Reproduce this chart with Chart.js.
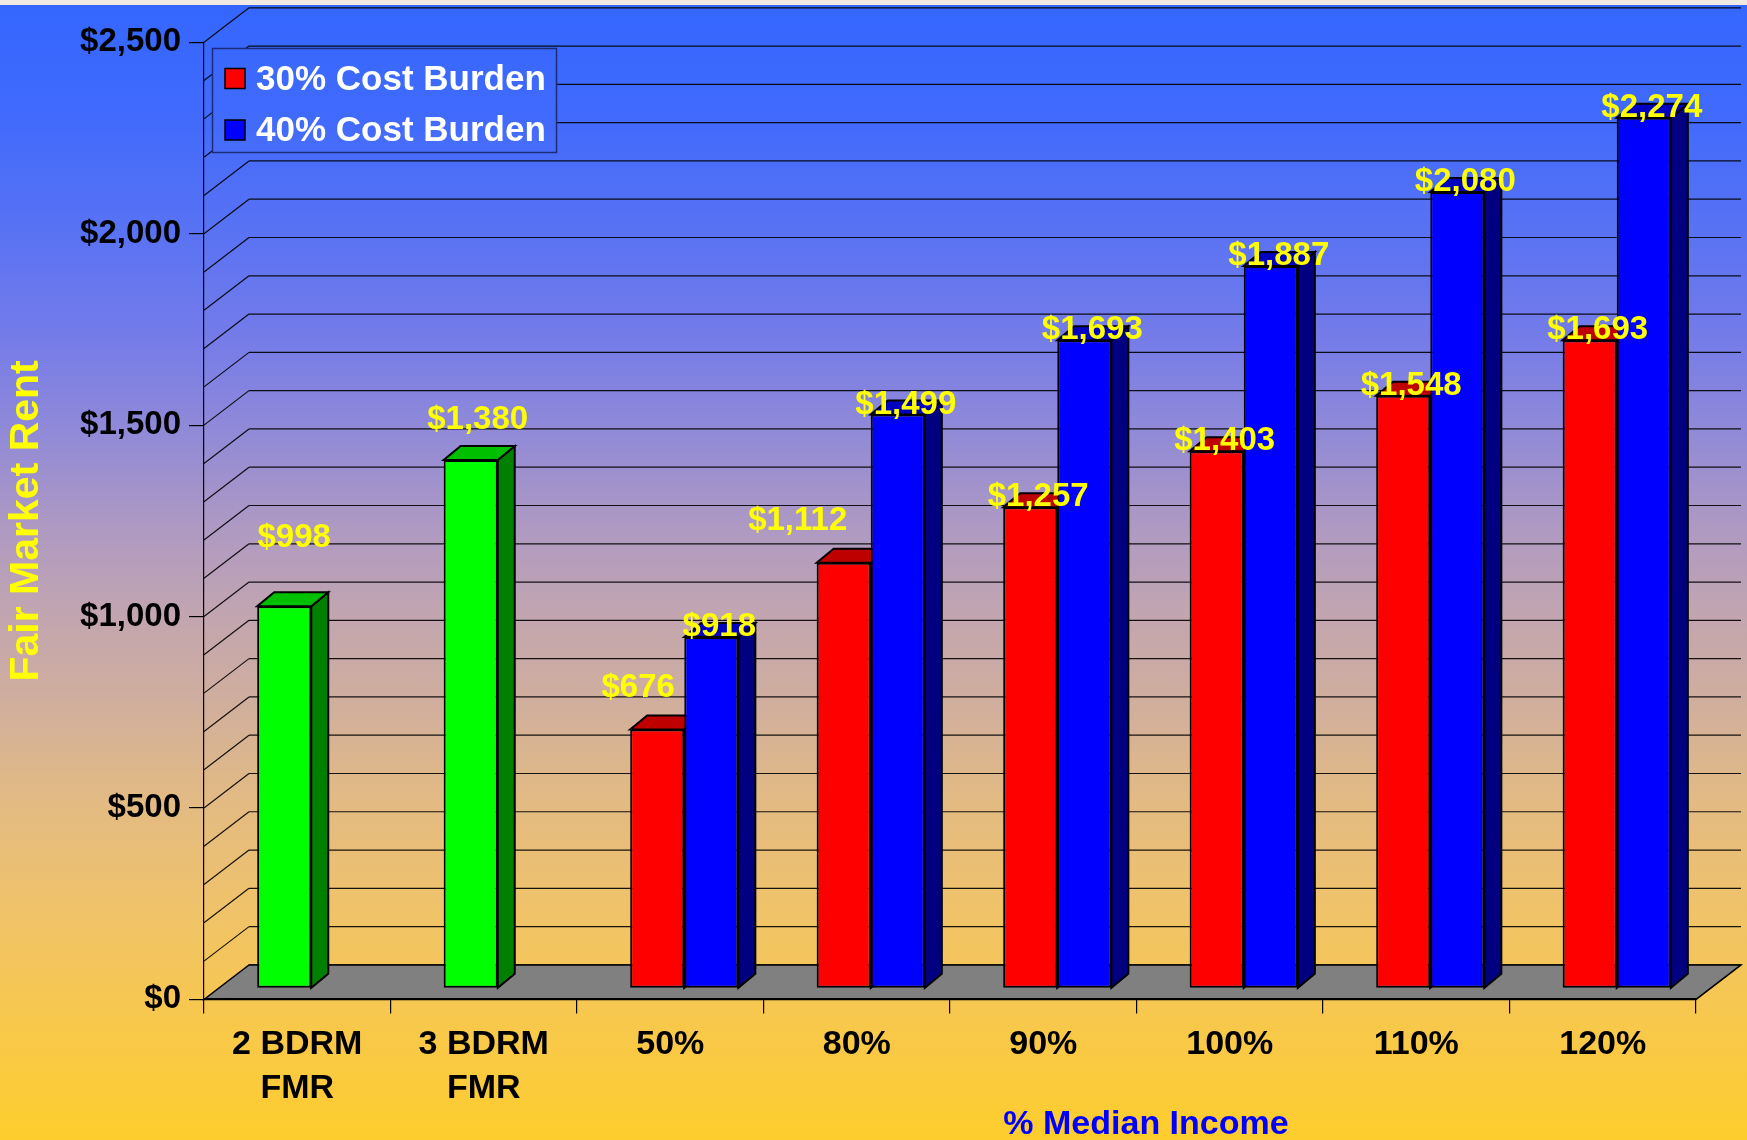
<!DOCTYPE html>
<html>
<head>
<meta charset="utf-8">
<title>Fair Market Rent by % Median Income</title>
<script src="https://cdn.jsdelivr.net/npm/chart.js@4/dist/chart.umd.min.js"></script>
<style>
  html, body { margin: 0; padding: 0; overflow: hidden; background: #fff; }
  #wrap { width: 1747px; height: 1140px; position: relative; }
  canvas { display: block; }
</style>
</head>
<body>
<div id="wrap"><canvas id="rentChart" width="1747" height="1140"></canvas></div>
<script>
// ---- data ----
const categories = [['2 BDRM', 'FMR'], ['3 BDRM', 'FMR'], '50%', '80%', '90%', '100%', '110%', '120%'];
const fmrRent    = [998, 1380, null, null, null, null, null, null];
const rent30     = [null, null, 676, 1112, 1257, 1403, 1548, 1693];
const rent40     = [null, null, 918, 1499, 1693, 1887, 2080, 2274];
const seriesNames = ['30% Cost Burden', '40% Cost Burden'];
const yAxisMax = 2500;
const yTickStep = 500;
const wallGridStep = 100;
const xAxisTitle = '% Median Income';
const yAxisTitle = 'Fair Market Rent';

// ---- look ----
const FONT = '"Liberation Sans", Arial, Helvetica, sans-serif';
const FRONT_SHIFT = { x: 14, y: -11 };    // bars stand a little behind the front edge of the floor
const BAR_DEPTH   = { x: 17, y: -14 };
const WALL_DEPTH  = { x: 45, y: -34.5 };
const GREEN = '#00FF00', RED = '#FF0000', BLUE = '#0000FF';
// hand placed value labels that would otherwise collide
const labelNudge = { '0:0': [2, -58], '0:1': [-1, -30], '0:2': [-27, -32], '0:3': [-54, -32] };

const money = v => '$' + Number(v).toLocaleString('en-US');

// the first series carries the FMR bars in the two leading categories
const frontSeries = categories.map((_, i) => fmrRent[i] != null ? fmrRent[i] : rent30[i]);
const frontColors = categories.map((_, i) => fmrRent[i] != null ? GREEN : RED);

function shade(hex, f) {
  const n = parseInt(hex.slice(1), 16);
  const r = Math.round(((n >> 16) & 255) * f), g = Math.round(((n >> 8) & 255) * f), b = Math.round((n & 255) * f);
  return `rgb(${r},${g},${b})`;
}

function backdrop(ctx, h) {
  const g = ctx.createLinearGradient(0, 0, 0, h);
  const stops = [
    [0.00, '52,102,255'], [0.10, '64,106,252'], [0.20, '88,114,244'], [0.30, '118,124,232'],
    [0.38, '145,138,215'], [0.456, '172,152,196'], [0.53, '192,164,178'], [0.614, '208,174,158'],
    [0.70, '226,186,132'], [0.80, '240,195,105'], [0.90, '248,200,75'], [1.00, '253,205,45']
  ];
  stops.forEach(([t, c]) => g.addColorStop(t, `rgb(${c})`));
  return g;
}

function strokePoly(ctx, pts, fill, stroke, lw) {
  ctx.beginPath();
  ctx.moveTo(pts[0][0], pts[0][1]);
  for (let i = 1; i < pts.length; i++) ctx.lineTo(pts[i][0], pts[i][1]);
  ctx.closePath();
  if (fill) { ctx.fillStyle = fill; ctx.fill(); }
  if (stroke) { ctx.strokeStyle = stroke; ctx.lineWidth = lw; ctx.stroke(); }
}

const scene3d = {
  id: 'scene3d',
  beforeDraw(chart) {
    const { ctx, chartArea: a, scales: { y } } = chart;
    ctx.save();
    ctx.fillStyle = backdrop(ctx, chart.height);
    ctx.fillRect(0, 0, chart.width, chart.height);
    ctx.fillStyle = '#F1EAE2';
    ctx.fillRect(0, 0, chart.width, 5);

    // back wall and left wall grid
    ctx.strokeStyle = 'rgba(0,0,0,0.9)';
    ctx.lineWidth = 1.2;
    for (let v = 0; v <= yAxisMax; v += wallGridStep) {
      const py = y.getPixelForValue(v);
      ctx.beginPath();
      ctx.moveTo(a.left + WALL_DEPTH.x, py + WALL_DEPTH.y);
      ctx.lineTo(a.right + WALL_DEPTH.x, py + WALL_DEPTH.y);
      if (v > 0) {
        ctx.moveTo(a.left, py);
        ctx.lineTo(a.left + WALL_DEPTH.x, py + WALL_DEPTH.y);
      }
      ctx.stroke();
    }

    // floor
    const fy = y.getPixelForValue(0);
    strokePoly(ctx, [
      [a.left, fy], [a.right, fy],
      [a.right + WALL_DEPTH.x, fy + WALL_DEPTH.y], [a.left + WALL_DEPTH.x, fy + WALL_DEPTH.y]
    ], '#808080', '#000', 1.5);
    ctx.restore();
  },
  beforeDatasetsDraw(chart) {
    const ctx = chart.ctx;
    ctx.save();
    ctx.translate(FRONT_SHIFT.x, FRONT_SHIFT.y);
    ctx.lineJoin = 'miter';
    // tops and sides first; front faces drawn by the bar controller cover what is hidden
    chart.data.datasets.forEach((ds, di) => {
      const meta = chart.getDatasetMeta(di);
      meta.data.forEach((bar, i) => {
        if (ds.data[i] == null) return;
        const base = Array.isArray(ds.backgroundColor) ? ds.backgroundColor[i] : ds.backgroundColor;
        const l = bar.x - bar.width / 2, r = bar.x + bar.width / 2, t = bar.y, b = bar.base;
        const dx = BAR_DEPTH.x, dy = BAR_DEPTH.y;
        strokePoly(ctx, [[r, t], [r + dx, t + dy], [r + dx, b + dy], [r, b]], shade(base, 0.5), '#000', 2);
        strokePoly(ctx, [[l, t], [r, t], [r + dx, t + dy], [l + dx, t + dy]], shade(base, 0.75), '#000', 2);
      });
    });
    // front faces are drawn in the same shifted frame
  },
  afterDatasetsDraw(chart) {
    const ctx = chart.ctx;
    ctx.restore();
    ctx.save();
    ctx.font = `bold 33px ${FONT}`;
    ctx.fillStyle = '#FFFF00';
    ctx.textAlign = 'center';
    ctx.textBaseline = 'alphabetic';
    chart.data.datasets.forEach((ds, di) => {
      chart.getDatasetMeta(di).data.forEach((bar, i) => {
        const v = ds.data[i];
        if (v == null) return;
        const [nx, ny] = labelNudge[di + ':' + i] || [0, 0];
        ctx.fillText(money(v), bar.x + FRONT_SHIFT.x + 8 + nx, bar.y + FRONT_SHIFT.y - 1 + ny);
      });
    });
    ctx.restore();
  },
  afterDraw(chart) {
    const ctx = chart.ctx;
    ctx.save();
    // x axis title
    ctx.font = `bold 34px ${FONT}`;
    ctx.fillStyle = BLUE;
    ctx.textAlign = 'center';
    ctx.textBaseline = 'alphabetic';
    ctx.fillText(xAxisTitle, 1146, 1134);

    // legend
    const box = { x: 212.5, y: 48.5, w: 344, h: 104 };
    ctx.fillStyle = backdrop(ctx, chart.height);
    ctx.fillRect(box.x, box.y, box.w, box.h);
    ctx.strokeStyle = '#1c2c78';
    ctx.lineWidth = 1.5;
    ctx.strokeRect(box.x, box.y, box.w, box.h);
    ctx.font = `bold 35px ${FONT}`;
    ctx.textAlign = 'left';
    const swatches = [RED, BLUE];
    chart.data.datasets.forEach((ds, di) => {
      const rowY = box.y + 20 + di * 51.5;
      ctx.fillStyle = swatches[di];
      ctx.fillRect(225, rowY, 20, 20);
      ctx.strokeStyle = '#000';
      ctx.lineWidth = 1.5;
      ctx.strokeRect(225, rowY, 20, 20);
      ctx.fillStyle = '#FFFFFF';
      ctx.fillText(ds.label, 256, rowY + 21);
    });
    ctx.restore();
  }
};

new Chart(document.getElementById('rentChart'), {
  type: 'bar',
  data: {
    labels: categories,
    datasets: [
      { label: seriesNames[0], data: frontSeries, backgroundColor: frontColors,
        borderColor: '#000', borderWidth: 2, borderSkipped: false,
        categoryPercentage: 0.58, barPercentage: 1 },
      { label: seriesNames[1], data: rent40, backgroundColor: BLUE,
        borderColor: '#000', borderWidth: 2, borderSkipped: false,
        categoryPercentage: 0.58, barPercentage: 1 }
    ]
  },
  options: {
    responsive: false,
    animation: false,
    devicePixelRatio: 1,
    layout: { padding: { left: 0, right: 51, top: 42.3, bottom: 0 } },
    plugins: { legend: { display: false }, tooltip: { enabled: false }, title: { display: false } },
    scales: {
      x: {
        offset: true,
        grid: { offset: true, drawOnChartArea: false, drawTicks: true, tickLength: 14, color: '#000', lineWidth: 1.2 },
        border: { display: true, color: '#000', width: 2 },
        ticks: { color: '#000', autoSkip: false, maxRotation: 0, padding: 9,
                 font: { family: FONT, size: 34, weight: 'bold', lineHeight: 1.3 } },
        afterFit: s => { s.height = 140.6; }
      },
      y: {
        min: 0, max: yAxisMax,
        grid: { drawOnChartArea: false, drawTicks: true, tickLength: 15, color: '#000', lineWidth: 1.2 },
        border: { display: true, color: '#000', width: 1.2 },
        ticks: { stepSize: yTickStep, color: '#000', padding: 8, callback: v => money(v),
                 font: { family: FONT, size: 33, weight: 'bold' } },
        title: { display: true, text: yAxisTitle, color: '#FFFF00', padding: { top: 2, bottom: 0 },
                 font: { family: FONT, size: 41, weight: 'bold', lineHeight: 1.2 } },
        afterFit: s => { s.width = 204; }
      }
    }
  },
  plugins: [scene3d]
});
</script>
</body>
</html>
